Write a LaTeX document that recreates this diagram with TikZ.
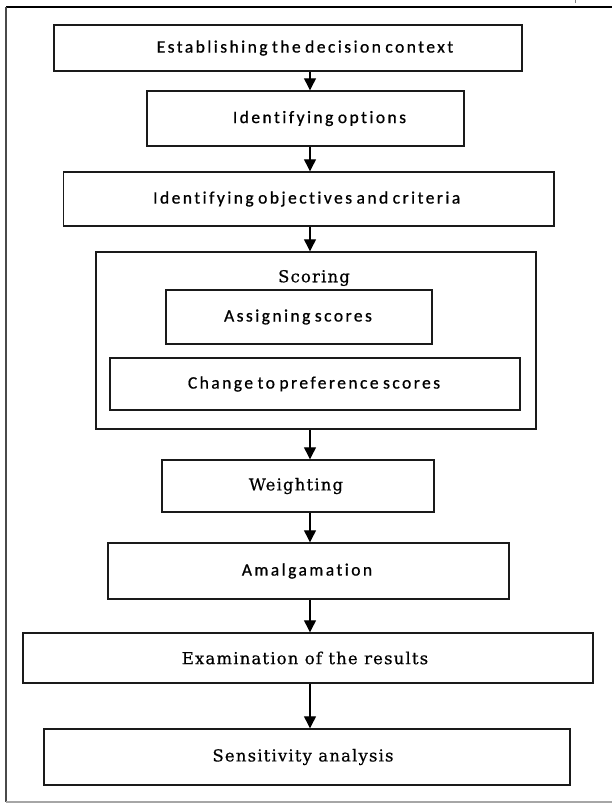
\documentclass[tikz,border=0pt]{standalone}
\usepackage{fontspec}
\usepackage{tikz}
\usetikzlibrary{positioning}
\usetikzlibrary{calc}
\usetikzlibrary{arrows.meta}
\newfontfamily\stepsans[LetterSpace=14, WordSpace=0.7, Ligatures=NoCommon, FakeBold=0.8]{Carlito}
\newfontfamily\stepserif[LetterSpace=7, FakeBold=0.6]{DejaVu Serif}
\definecolor{boxline}{HTML}{1A1A1A}
\definecolor{frameline}{HTML}{4A4A4A}
\def\spinex{310}

\begin{document}
\begin{tikzpicture}[x=1pt, y=-1pt,
  stepbox/.style={draw=boxline, line width=1.4pt, inner sep=0pt},
  sanstext/.style={font=\stepsans\fontsize{17.5}{20}\selectfont, inner sep=0pt},
  seriftext/.style={font=\stepserif\fontsize{16.5}{19}\selectfont, inner sep=0pt},
  flowarrow/.style={draw=black, line width=1.2pt, -{Triangle[width=12pt,length=12pt]}}]

\useasboundingbox (0,0) rectangle (611,803);

% outer frame, right side is cut off
\draw[black, line width=1.4pt] (6,7) -- (612,7);
\draw[frameline, line width=1.6pt] (6,7) -- (6,802);
\draw[gray!70, line width=1.2pt] (6,802) -- (612,802);
\draw[gray, line width=0.8pt] (575,0) -- (575,3);

% the scoring group
\node[stepbox, minimum width=440pt, minimum height=177pt] (scoring) at (316,340.5) {};
\node[seriftext] (scoring-t) at ([shift={(-2,-62.5)}]scoring.center) {Scoring};

\foreach \n/\cx/\cy/\w/\h/\dx/\f/\t in {
  establish/288/48/468/46/17/sanstext/Establishing the decision context,
  options/305.5/118.5/317/55/14/sanstext/Identifying options,
  objectives/308.75/199/490.5/54/-2/sanstext/Identifying objectives and criteria,
  assign/299/317/266/54/-1/sanstext/Assigning scores,
  change/315/384/410/52/-1/sanstext/Change to preference scores,
  weighting/298/486/272/52/-2/seriftext/Weighting,
  amalgamation/308.5/571/401/56/-1.5/sanstext/Amalgamation,
  examination/308/658/570/50/-3/seriftext/Examination of the results,
  sensitivity/307/757/526/56/-4/seriftext/Sensitivity analysis}
{
  \node[stepbox, minimum width=\w pt, minimum height=\h pt] (\n) at (\cx,\cy) {};
  \node[\f] (\n-t) at ([xshift=\dx pt]\n.center) {\t};
}

\coordinate (spine) at (\spinex,0);

\foreach \a/\b in {establish/options, options/objectives, objectives/scoring,
  scoring/weighting, weighting/amalgamation, amalgamation/examination,
  examination/sensitivity}
  \draw[flowarrow] (\a.south -| spine) -- (\b.north -| spine);

\end{tikzpicture}
\end{document}
